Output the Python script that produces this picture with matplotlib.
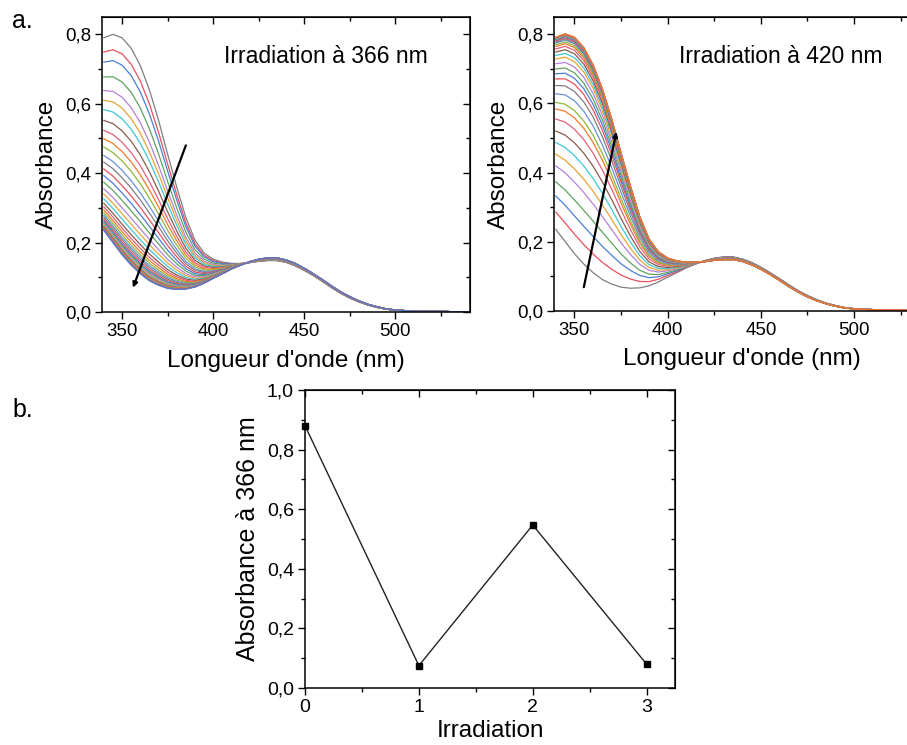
import numpy as np
import matplotlib
matplotlib.use('Agg')
import matplotlib.pyplot as plt

plt.rcParams['font.family'] = ['Liberation Sans', 'DejaVu Sans']

# wavelengths (nm) and the two end spectra
wl = [340, 345, 350, 355, 360, 365, 370, 375, 380, 385, 390, 395, 400, 405, 410,
      415, 420, 425, 430, 435, 440, 445, 450, 455, 460, 465, 470, 475, 480, 485,
      490, 495, 500, 505, 510, 515, 520, 525, 530, 535, 540]
# open (trans) form: top curve before 366 nm irradiation
abs_trans = [0.79, 0.80, 0.79, 0.76, 0.71, 0.64, 0.553, 0.455, 0.36, 0.272, 0.207, 0.170,
             0.152, 0.144, 0.140, 0.140, 0.142, 0.146, 0.148, 0.148, 0.143, 0.133,
             0.120, 0.105, 0.088, 0.070, 0.054, 0.040, 0.029, 0.020, 0.013, 0.008,
             0.005, 0.004, 0.003, 0.002, 0.002, 0.002, 0.001, 0.001, 0.001]
# photostationary state after 366 nm: bottom curve
abs_cis = [0.235, 0.20, 0.165, 0.135, 0.110, 0.090, 0.077, 0.068, 0.065, 0.066, 0.072,
           0.083, 0.097, 0.110, 0.124, 0.135, 0.145, 0.152, 0.156, 0.156, 0.150, 0.140,
           0.126, 0.110, 0.093, 0.075, 0.058, 0.044, 0.032, 0.022, 0.015, 0.009,
           0.006, 0.004, 0.003, 0.002, 0.002, 0.002, 0.001, 0.001, 0.001]

# absorbance at the left edge (340 nm) of every recorded spectrum
a340_366 = [0.79, 0.749, 0.72, 0.677, 0.638, 0.61, 0.583, 0.552, 0.523, 0.499, 0.475,
            0.451, 0.432, 0.412, 0.393, 0.374, 0.355, 0.34, 0.326, 0.313, 0.303, 0.294,
            0.286, 0.279, 0.273, 0.267, 0.262, 0.258, 0.254, 0.251, 0.248, 0.246, 0.244,
            0.242, 0.240, 0.239, 0.238, 0.236, 0.235]
a340_420 = [0.235, 0.285, 0.332, 0.373, 0.419, 0.453, 0.487, 0.52, 0.555, 0.584, 0.603,
            0.628, 0.652, 0.671, 0.686, 0.70, 0.715, 0.729, 0.739, 0.749, 0.758, 0.765,
            0.77, 0.775, 0.778, 0.781, 0.784, 0.786, 0.788, 0.789, 0.79, 0.79, 0.791, 0.792]

# cycles
cycle_x = [0, 1, 2, 3]
abs_366 = [0.88, 0.075, 0.547, 0.08]

colors = ['#7f7f7f', '#e8505f', '#4a7ed6', '#5fa35f', '#b482d8', '#e6a532',
          '#3fc6d6', '#8c5a4b', '#e0607a', '#ee7a2a', '#8cb83a', '#6a8fd8']

spec_yticks = [0.0, 0.2, 0.4, 0.6, 0.8]
spec_ylabels = ['0,0', '0,2', '0,4', '0,6', '0,8']
b_yticks = [0.0, 0.2, 0.4, 0.6, 0.8, 1.0]
b_ylabels = ['0,0', '0,2', '0,4', '0,6', '0,8', '1,0']

wl = np.array(wl)
abs_trans = np.array(abs_trans)
abs_cis = np.array(abs_cis)

fig = plt.figure(figsize=(9.07, 7.45), dpi=100)


def style(ax, xmaj, xmin, ymaj, ymin, lsize):
    ax.set_xticks(xmaj)
    ax.set_xticks(xmin, minor=True)
    ax.set_yticks(ymaj)
    ax.set_yticks(ymin, minor=True)
    ax.tick_params(which='both', direction='out', width=1, labelsize=lsize, pad=3)
    ax.tick_params(which='major', length=5)
    ax.tick_params(which='minor', length=3)
    for s in ax.spines.values():
        s.set_linewidth(1.1)
    # inward ticks on top / right like Origin
    sx = ax.secondary_xaxis('top')
    sx.set_xticks(xmaj)
    sx.set_xticks(xmin, minor=True)
    sx.tick_params(which='both', direction='in', labeltop=False, width=1)
    sx.tick_params(which='major', length=5)
    sx.tick_params(which='minor', length=3)
    sy = ax.secondary_yaxis('right')
    sy.set_yticks(ymaj)
    sy.set_yticks(ymin, minor=True)
    sy.tick_params(which='both', direction='in', labelright=False, width=1)
    sy.tick_params(which='major', length=5)
    sy.tick_params(which='minor', length=3)


def spectra(ax, levels, text, arrow_from, arrow_to):
    for i, a in enumerate(levels):
        f = (a - abs_cis[0]) / (abs_trans[0] - abs_cis[0])
        ax.plot(wl, abs_cis + f * (abs_trans - abs_cis), color=colors[i % len(colors)], lw=0.9)
    ax.set_xlim(339, 541)
    ax.set_ylim(0, 0.85)
    style(ax, [350, 400, 450, 500], [375, 425, 475, 525],
          spec_yticks, [0.1, 0.3, 0.5, 0.7], 13.5)
    ax.set_yticklabels(spec_ylabels)
    ax.set_xlabel("Longueur d'onde (nm)", fontsize=17.5, labelpad=7)
    ax.set_ylabel('Absorbance', fontsize=17.5, labelpad=5)
    ax.text(406, 0.735, text, fontsize=16.5, va='center')
    ax.annotate('', xy=arrow_to, xytext=arrow_from,
                arrowprops=dict(arrowstyle='-|>', color='k', lw=1.6, mutation_scale=7,
                                shrinkA=0, shrinkB=0))


ax1 = fig.add_axes([0.1125, 0.5812, 0.4057, 0.396])
spectra(ax1, a340_366, 'Irradiation à 366 nm', (385, 0.48), (356, 0.07))

ax2 = fig.add_axes([0.6108, 0.583, 0.415, 0.394])
spectra(ax2, a340_420, 'Irradiation à 420 nm', (355, 0.068), (372.5, 0.518))

ax3 = fig.add_axes([0.3363, 0.0765, 0.408, 0.4])
ax3.plot(cycle_x, abs_366, color='#222222', lw=1, marker='s', ms=5,
         mfc='k', mec='k', clip_on=False, zorder=3)
ax3.set_xlim(0, 3.25)
ax3.set_ylim(0, 1.0)
style(ax3, [0, 1, 2, 3], [0.5, 1.5, 2.5], b_yticks, [0.1, 0.3, 0.5, 0.7, 0.9], 14)
ax3.set_yticklabels(b_ylabels)
ax3.set_xlabel('Irradiation', fontsize=17.5, labelpad=3)
ax3.set_ylabel('Absorbance à 366 nm', fontsize=18, labelpad=5)

fig.text(12 / 907, 1 - 28 / 745, 'a.', fontsize=18)
fig.text(12 / 907, 1 - 417 / 745, 'b.', fontsize=18)

fig.savefig('out.png', dpi=100)
